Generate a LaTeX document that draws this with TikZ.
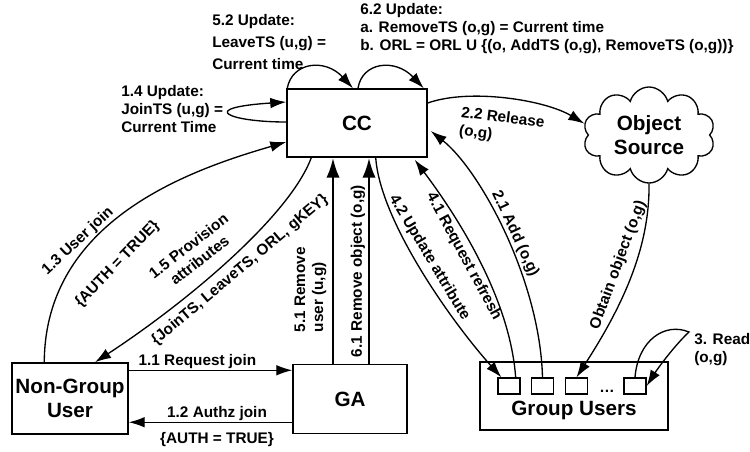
\documentclass[tikz,border=0pt]{standalone}
\usepackage{fontspec}
\setmainfont{Liberation Sans}
\usetikzlibrary{arrows.meta,calc,shapes.symbols}

\tikzset{
  box/.style={draw,line width=1.1pt,inner sep=0pt,align=center,
    font=\fontsize{15.5}{17.5}\selectfont\bfseries},
  ubox/.style={draw,line width=1pt,inner sep=0pt,
    minimum width=16.5pt,minimum height=12pt},
  lbl/.style={inner sep=1pt,font=\fontsize{11.5}{13.5}\selectfont\bfseries},
  note/.style={lbl,inner sep=0pt,anchor=north west,align=left},
  link/.style={line width=1pt,-{Latex[length=12pt,width=8pt]}},
  fatlink/.style={line width=2pt,-{Latex[length=15pt,width=10pt]}}
}

\begin{document}
\begin{tikzpicture}[x=0.75pt,y=-0.75pt]
      \useasboundingbox (0,0) rectangle (750,451);
      \fill[white] (0,0) rectangle (750,451);

      %% vertices
      \node[box,minimum width=105pt,minimum height=51pt] (cc) at (357,123) {CC};
      \node[box,minimum width=87pt,minimum height=53.25pt] (ngu) at (70,398.5) {Non-Group\\User};
      \node[box,minimum width=85.5pt,minimum height=51.75pt] (ga) at (350,399) {GA};
      \node[box,cloud,cloud puffs=10,cloud ignores aspect,line width=1pt,
            minimum width=99pt,minimum height=72pt,
            font=\fontsize{15.5}{18}\selectfont\bfseries] (os) at (649,135) {Object\\Source};

      %% group users
      \node[draw,line width=1.1pt,minimum width=141pt,minimum height=51pt] (gu) at (574,396) {};
      \node[ubox] (u1) at (509,386) {};
      \node[ubox] (u2) at (542.5,386) {};
      \node[ubox] (u3) at (576.5,386) {};
      \node[ubox] (u4) at (635,386) {};
      \node[lbl,anchor=base] (dots) at (607,392) {\ldots};
      \node[box,draw=none,anchor=base] (gutext) at (574,415) {Group Users};

      %% update notes
      \node[note] (upd14) at (121,85) {1.4 Update:\\JoinTS (u,g) =\\Current Time};
      \node[note,font=\fontsize{11.5}{16.5}\selectfont\bfseries] (upd52) at (212,14) {5.2 Update:\\LeaveTS (u,g) =\\Current time};
      \node[note] (upd62) at (360,3) {6.2 Update:\\a. RemoveTS (o,g) = Current time\\b. ORL = ORL U \{(o, AddTS (o,g), RemoveTS (o,g))\}};
      \node[note] (rd) at (694,333) {3. Read\\(o,g)};

      %% curved edge labels
      \node[lbl,rotate=43] (t13a) at (78,241) {1.3 User join};
      \node[lbl,rotate=46] (t13b) at (117.5,264) {\{AUTH = TRUE\}};
      \node[lbl,rotate=38,align=center] (t15a) at (194,253) {1.5 Provision\\attributes};
      \node[lbl,rotate=40] (t15b) at (240,270) {\{JoinTS, LeaveTS, ORL, gKEY\}};
      \node[note,rotate=-7] (t22) at (462,106) {2.2 Release\\(o,g)};

      %% edges
      % ngu -> ga
      \draw[link] ($(ngu.north east)+(0,8)$) -- ($(ga.north west)+(0,6.5)$)
        node[lbl,pos=0.42,above] {1.1 Request join};

      % ga -> ngu
      \draw[link] ($(ga.south west)+(0,-12)$) -- ($(ngu.south east)+(0,-12.5)$)
        node[lbl,pos=0.46,above] {1.2 Authz join}
        node[lbl,pos=0.46,below=6pt] {\{AUTH = TRUE\}};

      % ngu -> cc
      \draw[link] ($(ngu.north west)+(33,0)$) .. controls (45,220) and (190,170) .. ($(cc.west)+(0,19)$);

      % cc -> ngu
      \draw[link] ($(cc.south west)+(25,0)$) .. controls (290,215) and (190,300) .. ($(ngu.north)+(25,0)$);

      % cc -> cc (1.4)
      \draw[link] ($(cc.west)+(0,-1)$) .. controls (230,122) and (195,108) .. ($(cc.west)+(0,-21)$);

      % cc -> cc (5.2)
      \draw[link] ($(cc.north west)+(1,0)$) .. controls (292,62) and (325,58) .. ($(cc.north)+(-4,0)$);

      % cc -> cc (6.2)
      \draw[link] ($(cc.north)+(1,0)$) .. controls (362,62) and (395,58) .. ($(cc.north east)+(-4,0)$);

      % ga -> cc
      \draw[fatlink] ($(ga.north)+(-17,0)$) coordinate (g51) -- (g51 |- cc.south)
        node[lbl,pos=0.36,rotate=90,above=3pt,align=left] {5.1 Remove\\user (u,g)};

      % ga -> cc
      \draw[fatlink] ($(ga.north)+(19,0)$) coordinate (g61) -- (g61 |- cc.south)
        node[lbl,pos=0.45,rotate=90,above=1pt] {6.1 Remove object (o,g)};

      % cc -> u1
      \draw[link] ($(cc.south east)+(-52,0)$) .. controls (380,220) and (450,320) .. ($(u1.north west)+(4,0)$)
        node[lbl,pos=0.48,sloped,above=3pt] {4.2 Update attribute};

      % u1 -> cc
      \draw[link] ($(u1.north east)+(-5,0)$) .. controls (510,300) and (460,220) .. ($(cc.south east)+(-13,2)$)
        node[lbl,pos=0.55,sloped,below=2pt] {4.1 Request refresh};

      % u2 -> cc
      \draw[link] (u2.north) .. controls (540,280) and (480,170) .. ($(cc.east)+(3,8)$)
        node[lbl,pos=0.48,sloped,above] {2.1 Add (o,g)};

      % cc -> os
      \draw[link] ($(cc.east)+(0,-20)$) .. controls (470,88) and (545,100) .. (os.170);

      % os -> u3
      \draw[link] (os.south) .. controls (650,250) and (620,310) .. (u3.north)
        node[lbl,pos=0.45,sloped,above=5pt] {Obtain object (o,g)};

      % u4 -> u4 (3. Read)
      \draw[link] (u4.north) .. controls (638,340) and (665,322) .. ($(rd.north west)+(-5,-1)$)
        .. controls (675,345) and (658,368) .. (u4.east);

\end{tikzpicture}
\end{document}
